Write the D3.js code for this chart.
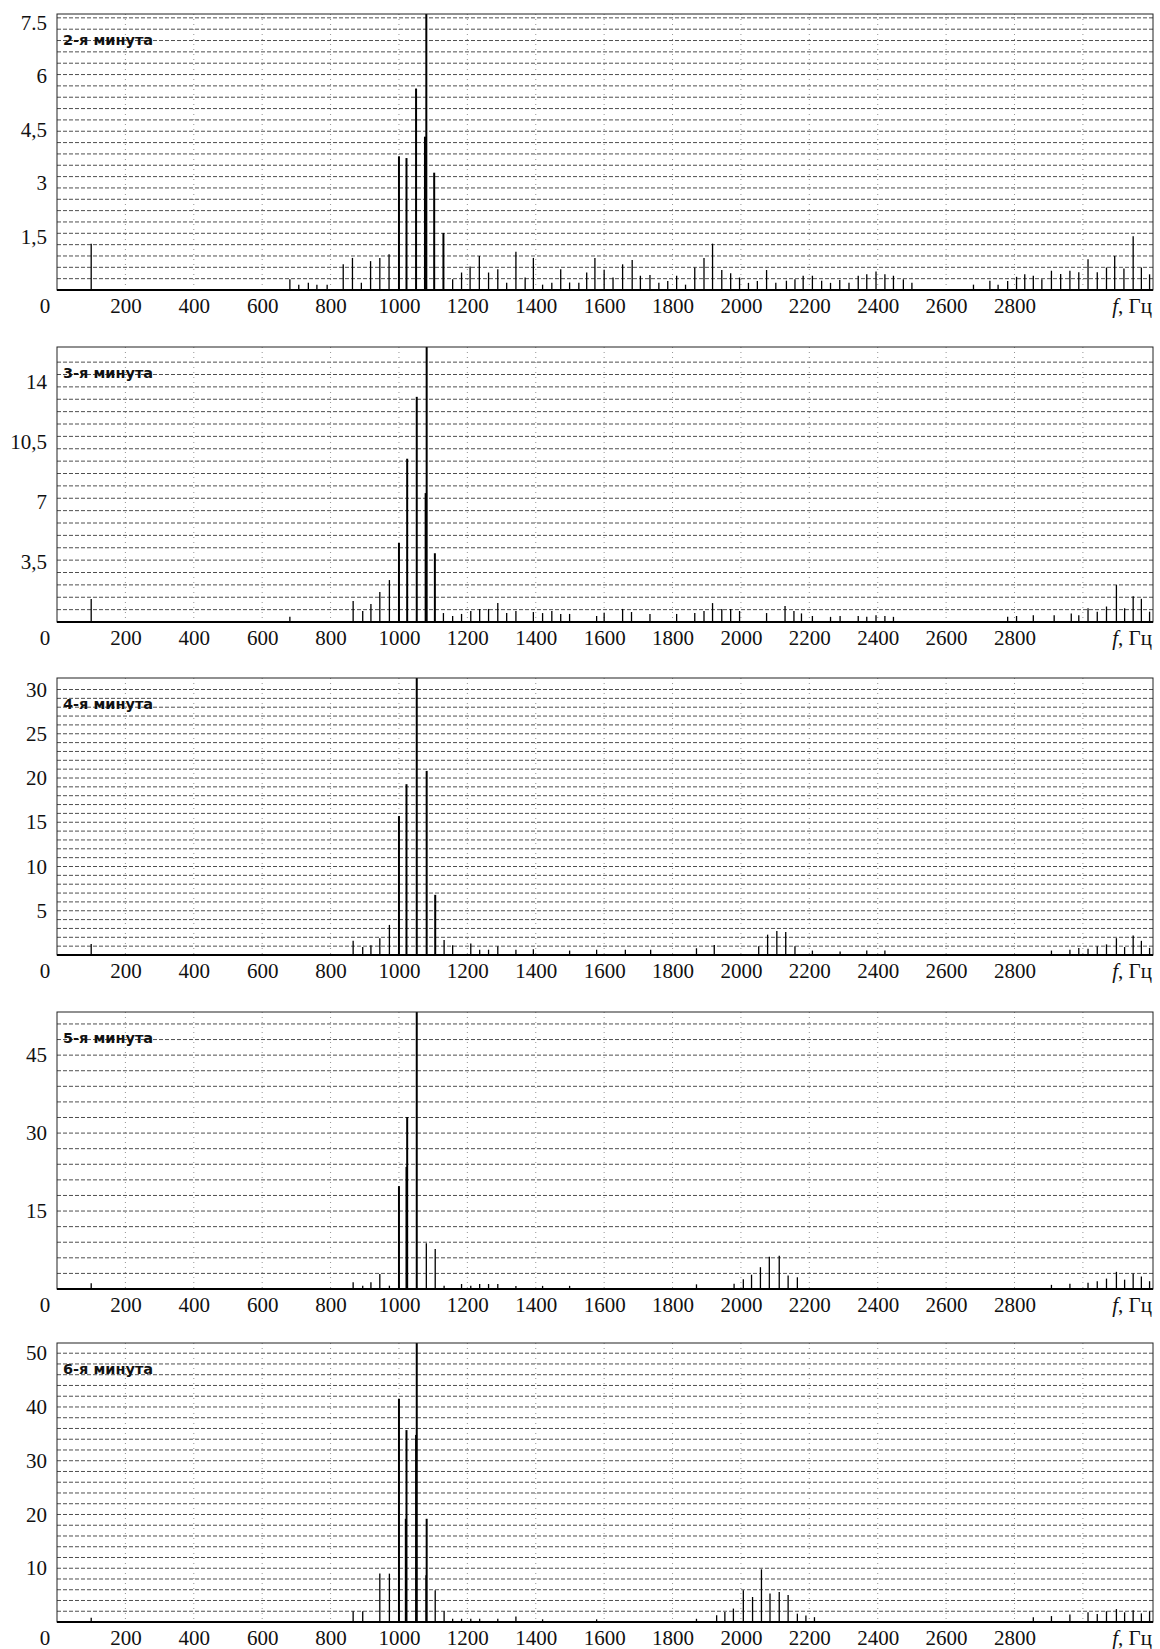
<!DOCTYPE html>

<head>
  <meta charset="utf-8">
  <script src="https://d3js.org/d3.v7.min.js"></script>
  <style>
    body {
      margin: 0;
      background-color: #fff;
    }

    .tick text {
      font-family: "Liberation Serif", "Times New Roman", serif;
      font-size: 21px;
      fill: #111;
    }

    .title {
      font-family: "DejaVu Sans", Arial, sans-serif;
      font-weight: bold;
      font-size: 14.5px;
      fill: #111;
    }
  </style>
</head>

<body>
  <div id="graph"></div>
  <script>
    // x axis (Hz)
    var xTicks = [200, 400, 600, 800, 1000, 1200, 1400, 1600, 1800, 2000, 2200, 2400, 2600, 2800];
    var xGrid = [200, 400, 600, 800, 1000, 1200, 1400, 1600, 1800, 2000, 2200, 2400, 2600, 2800, 3000];
    var xMax = 3205;

    // panel titles
    var titles = ["2-я минута", "3-я минута", "4-я минута", "5-я минута", "6-я минута"];

    // y tick values and labels of each panel
    var yTicksM2 = [1.5, 3, 4.5, 6, 7.5];
    var yLabelsM2 = ["1,5", "3", "4,5", "6", "7.5"];
    var yTicksM3 = [3.5, 7, 10.5, 14];
    var yLabelsM3 = ["3,5", "7", "10,5", "14"];
    var yTicksM4 = [5, 10, 15, 20, 25, 30];
    var yLabelsM4 = ["5", "10", "15", "20", "25", "30"];
    var yTicksM5 = [15, 30, 45];
    var yLabelsM5 = ["15", "30", "45"];
    var yTicksM6 = [10, 20, 30, 40, 50];
    var yLabelsM6 = ["10", "20", "30", "40", "50"];

    // spectral lines [f, amplitude]
    var peaksM2 = [[100, 1.3], [681, 0.3], [707, 0.15], [735, 0.2], [760, 0.15], [790, 0.15], [837, 0.72], [864, 0.9],
      [890, 0.2], [917, 0.81], [944, 0.9], [971, 1.0], [1000, 3.75], [1022, 3.7], [1050, 5.65], [1076, 4.3], [1080, 7.74],
      [1103, 3.29], [1130, 1.6], [1157, 0.3], [1183, 0.49], [1208, 0.66], [1235, 0.95], [1262, 0.49], [1289, 0.58],
      [1315, 0.2], [1342, 1.07], [1369, 0.35], [1393, 0.9], [1420, 0.15], [1447, 0.2], [1473, 0.58], [1499, 0.21],
      [1526, 0.2], [1549, 0.49], [1573, 0.9], [1600, 0.56], [1626, 0.35], [1654, 0.72], [1682, 0.84], [1706, 0.4],
      [1734, 0.42], [1760, 0.2], [1786, 0.25], [1812, 0.4], [1838, 0.15], [1865, 0.63], [1892, 0.9], [1917, 1.3],
      [1944, 0.56], [1970, 0.47], [1996, 0.35], [2022, 0.2], [2048, 0.25], [2075, 0.56], [2102, 0.2], [2133, 0.26],
      [2158, 0.3], [2182, 0.4], [2209, 0.4], [2236, 0.26], [2262, 0.2], [2289, 0.28], [2316, 0.2], [2343, 0.4],
      [2368, 0.44], [2395, 0.52], [2421, 0.44], [2446, 0.4], [2475, 0.3], [2500, 0.2], [2680, 0.15], [2728, 0.26],
      [2752, 0.15], [2780, 0.25], [2806, 0.37], [2830, 0.44], [2855, 0.4], [2880, 0.3], [2908, 0.54], [2935, 0.45],
      [2962, 0.54], [2988, 0.5], [3015, 0.86], [3042, 0.5], [3069, 0.63], [3093, 0.95], [3120, 0.6], [3147, 1.51],
      [3171, 0.63], [3195, 0.44]];

    var peaksM3 = [[100, 1.34], [681, 0.3], [866, 1.22], [894, 0.64], [918, 1.05], [944, 1.74], [972, 2.44],
      [1000, 4.6], [1024, 9.5], [1052, 13.1], [1078, 7.5], [1081, 16], [1105, 4.0], [1130, 0.52], [1157, 0.35],
      [1183, 0.47], [1210, 0.64], [1236, 0.76], [1262, 0.76], [1289, 1.1], [1315, 0.52], [1342, 0.64], [1393, 0.58],
      [1420, 0.52], [1447, 0.64], [1473, 0.47], [1499, 0.47], [1578, 0.35], [1600, 0.52], [1654, 0.76], [1680, 0.58],
      [1734, 0.47], [1812, 0.47], [1865, 0.52], [1892, 0.64], [1917, 1.1], [1944, 0.76], [1970, 0.76], [1996, 0.64],
      [2075, 0.52], [2129, 0.93], [2155, 0.64], [2177, 0.5], [2209, 0.35], [2262, 0.3], [2290, 0.35], [2343, 0.35],
      [2368, 0.3], [2395, 0.4], [2421, 0.35], [2446, 0.3], [2780, 0.3], [2806, 0.35], [2855, 0.4], [2916, 0.4],
      [2966, 0.5], [2988, 0.4], [3015, 0.8], [3042, 0.6], [3069, 0.9], [3098, 2.15], [3122, 0.8], [3147, 1.5],
      [3171, 1.35], [3195, 0.6]];

    var peaksM4 = [[100, 1.25], [866, 1.6], [894, 0.9], [918, 1.1], [944, 1.9], [972, 3.4], [1000, 15.7],
      [1022, 19.3], [1052, 31.3], [1081, 20.8], [1106, 6.8], [1132, 1.7], [1157, 1.1], [1210, 1.3], [1236, 0.6],
      [1262, 0.6], [1289, 1.0], [1342, 0.6], [1393, 0.65], [1499, 0.5], [1578, 0.6], [1662, 0.6], [1736, 0.6],
      [1870, 0.76], [1922, 1.13], [2052, 1.0], [2078, 2.3], [2105, 2.7], [2131, 2.6], [2158, 1.0], [2209, 0.5],
      [2290, 0.4], [2368, 0.5], [2421, 0.5], [2908, 0.5], [2962, 0.6], [2988, 0.8], [3015, 0.7], [3042, 1.0],
      [3069, 1.2], [3098, 1.9], [3122, 0.9], [3147, 2.2], [3171, 1.6], [3195, 0.8]];

    var peaksM5 = [[100, 1.1], [866, 1.3], [894, 0.63], [918, 1.3], [944, 2.9], [972, 0.63], [1000, 19.8],
      [1022, 23.5], [1024, 33.1], [1052, 53.3], [1080, 8.8], [1106, 7.7], [1132, 0.63], [1183, 0.96], [1210, 0.63],
      [1236, 0.96], [1262, 0.96], [1289, 0.96], [1342, 0.6], [1420, 0.6], [1499, 0.6], [1870, 0.9], [1980, 1.0],
      [2007, 1.9], [2031, 2.75], [2057, 4.2], [2083, 6.2], [2112, 6.4], [2138, 2.6], [2165, 2.25], [2908, 0.8],
      [2962, 1.0], [3015, 1.2], [3042, 1.5], [3069, 2.0], [3098, 3.3], [3122, 1.8], [3147, 3.0], [3171, 2.4],
      [3195, 1.5]];

    var peaksM6 = [[100, 0.8], [866, 2.0], [894, 2.0], [944, 9.0], [972, 9.0], [1000, 41.5], [1020, 19.2],
      [1022, 35.7], [1050, 34.8], [1052, 51.9], [1079, 8.7], [1081, 19.2], [1106, 5.9], [1132, 2.0], [1157, 0.6],
      [1183, 0.6], [1210, 0.6], [1236, 0.6], [1289, 0.6], [1342, 1.0], [1420, 0.5], [1578, 0.5], [1870, 0.6],
      [1929, 1.25], [1953, 1.86], [1978, 2.5], [2007, 5.9], [2034, 4.65], [2060, 9.8], [2085, 5.3], [2112, 5.6],
      [2138, 5.0], [2165, 1.55], [2190, 1.2], [2215, 0.9], [2855, 0.9], [2908, 1.1], [2962, 1.4], [3015, 1.8],
      [3042, 1.5], [3069, 2.0], [3098, 2.4], [3122, 1.8], [3147, 2.2], [3171, 1.6], [3195, 2.0]];

    var yMaxes = [7.74, 16.0, 31.3, 53.3, 51.9];
    var gridSteps = [0.318, 0.72, 1, 3, 2];

    var panels = [
      { peaks: peaksM2, ticks: yTicksM2, labels: yLabelsM2 },
      { peaks: peaksM3, ticks: yTicksM3, labels: yLabelsM3 },
      { peaks: peaksM4, ticks: yTicksM4, labels: yLabelsM4 },
      { peaks: peaksM5, ticks: yTicksM5, labels: yLabelsM5 },
      { peaks: peaksM6, ticks: yTicksM6, labels: yLabelsM6 }
    ];

    // layout
    var width = 1160;
    var height = 1649;
    var left = 57;
    var right = 1153;
    var tops = [14, 347, 678, 1012, 1343];
    var bottoms = [290, 622, 955, 1289, 1622];

    var svg = d3.select("#graph").append("svg")
      .attr("width", width)
      .attr("height", height);

    var x = d3.scaleLinear()
      .domain([0, xMax])
      .range([left, right]);

    panels.forEach(function(p, k) {
      var top = tops[k];
      var bottom = bottoms[k];
      var y = d3.scaleLinear()
        .domain([0, yMaxes[k]])
        .range([bottom, top]);

      var g = svg.append("g").attr("class", "panel");

      // horizontal dashed grid
      g.selectAll(".hgrid")
        .data(d3.range(gridSteps[k], yMaxes[k] - gridSteps[k] * 0.3, gridSteps[k]))
        .enter().append("line")
        .attr("class", "hgrid")
        .attr("x1", left)
        .attr("x2", right)
        .attr("y1", d => y(d))
        .attr("y2", d => y(d))
        .attr("stroke", "#222")
        .attr("stroke-width", 0.8)
        .attr("stroke-dasharray", "4,2");

      // vertical dotted grid
      g.selectAll(".vgrid")
        .data(xGrid).enter()
        .append("line")
        .attr("class", "vgrid")
        .attr("x1", d => x(d))
        .attr("x2", d => x(d))
        .attr("y1", top)
        .attr("y2", bottom)
        .attr("stroke", "#777")
        .attr("stroke-width", 0.8)
        .attr("stroke-dasharray", "1,4");

      // spectral lines, the strong ones a little heavier
      g.selectAll(".peak")
        .data(p.peaks).enter()
        .append("line")
        .attr("class", "peak")
        .attr("x1", d => x(d[0]))
        .attr("x2", d => x(d[0]))
        .attr("y1", y(0))
        .attr("y2", d => y(d[1]))
        .attr("stroke", "#000")
        .attr("stroke-width", d => d[1] > yMaxes[k] * 0.2 ? 2 : 1.3);

      // frame
      g.append("rect")
        .attr("x", left)
        .attr("y", top)
        .attr("width", right - left)
        .attr("height", bottom - top)
        .attr("fill", "none")
        .attr("stroke", "#222")
        .attr("stroke-width", 1);
      g.append("line")
        .attr("x1", left)
        .attr("x2", right)
        .attr("y1", bottom)
        .attr("y2", bottom)
        .attr("stroke", "#000")
        .attr("stroke-width", 2);

      // axes
      var yAxis = d3.axisLeft(y)
        .tickValues(p.ticks)
        .tickFormat((d, i) => p.labels[i])
        .tickSize(0)
        .tickPadding(10);
      g.append("g")
        .attr("transform", "translate(" + left + ",0)")
        .call(yAxis)
        .call(a => a.select(".domain").remove());

      var xAxis = d3.axisBottom(x)
        .tickValues(xTicks)
        .tickFormat(d3.format("d"))
        .tickSize(0)
        .tickPadding(8);
      g.append("g")
        .attr("transform", "translate(0," + bottom + ")")
        .call(xAxis)
        .call(a => a.select(".domain").remove());

      // zero at the corner
      g.append("g").attr("class", "tick")
        .append("text")
        .attr("x", x(0) - 12)
        .attr("y", bottom + 8)
        .attr("dy", "0.71em")
        .attr("text-anchor", "middle")
        .text("0");

      // axis name
      var fl = g.append("g").attr("class", "tick")
        .append("text")
        .attr("x", right - 1)
        .attr("y", bottom + 8)
        .attr("dy", "0.71em")
        .attr("text-anchor", "end");
      fl.append("tspan").attr("font-style", "italic").text("f");
      fl.append("tspan").text(", Гц");

      // title
      g.append("text")
        .attr("class", "title")
        .attr("x", left + 6)
        .attr("y", top + 31)
        .text(titles[k]);
    });
  </script>
</body>
